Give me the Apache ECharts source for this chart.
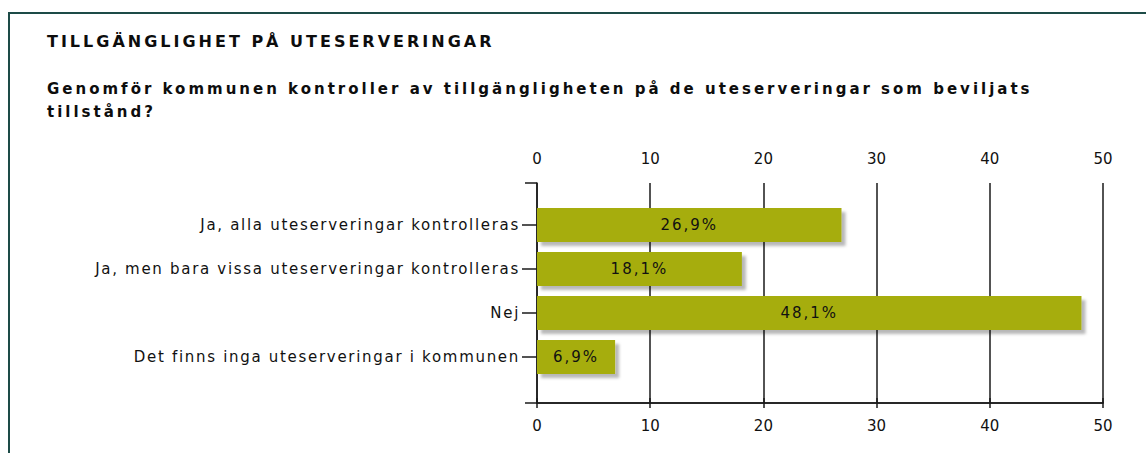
<!DOCTYPE html>
<html>
<head>
<meta charset="utf-8">
<script src="https://cdn.jsdelivr.net/npm/echarts@6/dist/echarts.min.js"></script>
<style>
    html, body { margin: 0; padding: 0; background: #fff; overflow: hidden; }
    #frame { position: absolute; left: 8px; top: 12px; width: 2000px; height: 2000px; border-left: 2px solid #1d4b47; border-top: 2px solid #1d4b47; }
    #chart { position: absolute; left: 0; top: 0; width: 1146px; height: 453px; }
</style>
</head>
<body>
<div id="frame"></div>
<div id="chart"></div>
<script>
var categories = [
    'Ja, alla uteserveringar kontrolleras',
    'Ja, men bara vissa uteserveringar kontrolleras',
    'Nej',
    'Det finns inga uteserveringar i kommunen'
];
var values = [26.9, 18.1, 48.1, 6.9];
var xTicks = [0, 10, 20, 30, 40, 50];

// svg renderer so the (wide tracked) text can get css letter-spacing
var chart = echarts.init(document.getElementById('chart'), null, { renderer: 'svg' });

var labelFont = '"DejaVu Sans", Verdana, sans-serif';
var lineCol = '#1a1a1a';
var textCol = '#111';

var option = {
    animation: false,
    title: [
        {
            text: 'TILLGÄNGLIGHET PÅ UTESERVERINGAR',
            left: 42,
            top: 28,
            textStyle: { fontFamily: labelFont, fontWeight: 'bold', fontSize: 16, color: '#0d0d0d' }
        },
        {
            text: 'Genomför kommunen kontroller av tillgängligheten på de uteserveringar som beviljats\ntillstånd?',
            left: 42,
            top: 72,
            textStyle: { fontFamily: labelFont, fontWeight: 'bold', fontSize: 15, color: '#0d0d0d', lineHeight: 23 }
        }
    ],
    grid: [
        // frame: axis lines and vertical grid lines
        { left: 537, right: 43, top: 183, bottom: 50 },
        // bars
        { left: 537, right: 43, top: 203, bottom: 74 }
    ],
    xAxis: [
        {
            gridIndex: 0, type: 'value', position: 'top',
            min: xTicks[0], max: xTicks[xTicks.length - 1], interval: 10,
            axisLine: { show: true, lineStyle: { color: lineCol, width: 1.5 } },
            axisTick: { show: true, length: 5, lineStyle: { color: lineCol, width: 1.5 } },
            axisLabel: { fontFamily: labelFont, fontSize: 15, color: textCol, margin: 17 },
            splitLine: { show: true, lineStyle: { color: lineCol, width: 1.5 } }
        },
        {
            gridIndex: 0, type: 'value', position: 'bottom',
            min: xTicks[0], max: xTicks[xTicks.length - 1], interval: 10,
            axisLine: { show: true, lineStyle: { color: lineCol, width: 1.5 } },
            axisTick: { show: true, length: 5, lineStyle: { color: lineCol, width: 1.5 } },
            axisLabel: { fontFamily: labelFont, fontSize: 15, color: textCol, margin: 15 },
            splitLine: { show: false }
        },
        {
            gridIndex: 1, type: 'value', show: false,
            min: xTicks[0], max: xTicks[xTicks.length - 1]
        }
    ],
    yAxis: [
        {
            gridIndex: 0, type: 'value', min: 0, max: 1, interval: 1,
            axisLine: { show: true, lineStyle: { color: lineCol, width: 1.5 } },
            axisTick: { show: true, length: 12, lineStyle: { color: lineCol, width: 1.5 } },
            axisLabel: { show: false },
            splitLine: { show: false }
        },
        {
            gridIndex: 1, type: 'category', data: categories, inverse: true,
            axisLine: { show: false },
            axisTick: { show: true, alignWithLabel: true, length: 15, lineStyle: { color: lineCol, width: 1.5 } },
            axisLabel: { fontFamily: labelFont, fontSize: 15, color: textCol, margin: 17 }
        }
    ],
    series: [
        {
            type: 'bar',
            xAxisIndex: 2,
            yAxisIndex: 1,
            data: values,
            barWidth: 34,
            itemStyle: {
                color: '#a6ad11',
                shadowColor: 'rgba(0,0,0,0.28)',
                shadowBlur: 3,
                shadowOffsetX: 4,
                shadowOffsetY: 4
            },
            label: {
                show: true,
                position: 'inside',
                fontFamily: labelFont,
                fontSize: 15,
                color: textCol,
                formatter: function (p) {
                    return p.value.toFixed(1).replace('.', ',') + '%';
                }
            }
        }
    ]
};

chart.setOption(option);

// spread the letters like the original
var texts = document.querySelectorAll('#chart text');
for (var i = 0; i < texts.length; i++) {
    var t = texts[i];
    var s = t.textContent;
    var sp = 1.7;
    if (/^\d+$/.test(s)) sp = 0;
    else if (s.indexOf('%') >= 0) sp = 2;
    else if (s === 'TILLGÄNGLIGHET PÅ UTESERVERINGAR') sp = 3;
    else if (s.indexOf('Genomför') === 0 || s === 'tillstånd?') sp = 3;
    t.style.letterSpacing = sp + 'px';
}
</script>
</body>
</html>
